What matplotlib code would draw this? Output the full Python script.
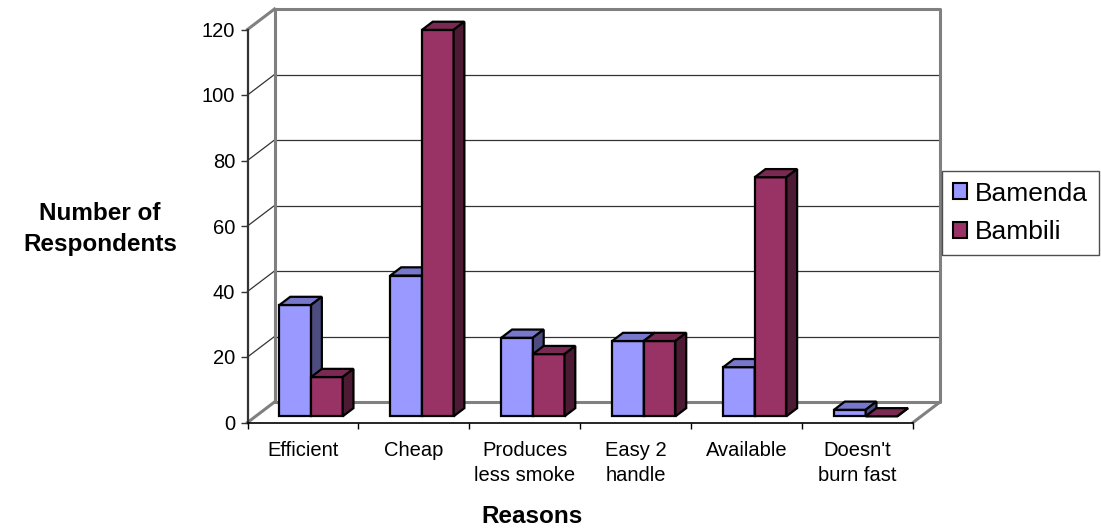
import matplotlib
matplotlib.use("Agg")
import matplotlib.pyplot as plt
from matplotlib.patches import Polygon, Patch

# --- data -------------------------------------------------------------
categories = ["Efficient", "Cheap", "Produces\nless smoke", "Easy 2\nhandle",
              "Available", "Doesn't\nburn fast"]
bamenda = [34, 43, 24, 23, 15, 2]
bambili = [12, 118, 19, 23, 73, 0]
series_names = ["Bamenda", "Bambili"]
y_ticks = [0, 20, 40, 60, 80, 100, 120]

# face colours: front, top, side
colors = {
    "Bamenda": ("#9999FF", "#7777CC", "#4C4C80"),
    "Bambili": ("#993366", "#7A2952", "#4D1A33"),
}

W, H = 1101, 531
fig = plt.figure(figsize=(W / 100, H / 100), dpi=100)
plt.rcParams["font.family"] = ["Liberation Sans", "DejaVu Sans"]

# front plane of the 3-D box
x0, x1 = 247.5, 913.0
y_zero, y_top = 422.5, 29.5
ax = fig.add_axes([x0 / W, (H - y_zero) / H, (x1 - x0) / W, (y_zero - y_top) / H])
n = len(categories)
ax.set_xlim(-0.5, n - 0.5)
ax.set_ylim(0, 120)

# depth direction in data units (full depth of the box)
DX = 27.0 / ((x1 - x0) / n)
DY = 20.5 / ((y_zero - y_top) / 120.0)


def P(x, y, z):
    return (x + z * DX, y + z * DY)


wall = "#808080"
grid = "#333333"

# back wall + left wall gridlines
for v in y_ticks[1:-1]:
    ax.plot(*zip(P(-0.5, v, 1), P(n - 0.5, v, 1)), color=grid, lw=0.9,
            clip_on=False, zorder=1)
    ax.plot(*zip(P(-0.5, v, 0), P(-0.5, v, 1)), color=grid, lw=0.9,
            clip_on=False, zorder=1)

# wall outlines
outline = [
    [P(-0.5, 0, 1), P(-0.5, 120, 1), P(n - 0.5, 120, 1), P(n - 0.5, 0, 1),
     P(-0.5, 0, 1)],
    [P(-0.5, 120, 0), P(-0.5, 120, 1)],
    [P(-0.5, 0, 0), P(-0.5, 0, 1)],
    [P(n - 0.5, 0, 0), P(n - 0.5, 0, 1)],
]
for seg in outline:
    ax.plot(*zip(*seg), color=wall, lw=2.2, clip_on=False, zorder=1.5)

# bars
bw = 0.285
z_front, z_back = 0.3, 0.7


def draw_bar(xl, h, name):
    front, top, side = colors[name]
    xr = xl + bw
    faces = [
        ([P(xl, 0, z_front), P(xr, 0, z_front), P(xr, h, z_front), P(xl, h, z_front)], front),
        ([P(xl, h, z_front), P(xr, h, z_front), P(xr, h, z_back), P(xl, h, z_back)], top),
        ([P(xr, 0, z_front), P(xr, 0, z_back), P(xr, h, z_back), P(xr, h, z_front)], side),
    ]
    for verts, c in faces:
        ax.add_patch(Polygon(verts, closed=True, facecolor=c, edgecolor="black",
                             lw=1.6, joinstyle="miter", clip_on=False, zorder=3))


for i in range(n):
    draw_bar(i - bw, bamenda[i], "Bamenda")
    draw_bar(i, bambili[i], "Bambili")

# axes styling
for s in ("top", "right"):
    ax.spines[s].set_visible(False)
ax.spines["left"].set_color("#333333")
ax.spines["left"].set_linewidth(1.6)
ax.spines["bottom"].set_color("black")
ax.spines["bottom"].set_linewidth(1.2)
ax.patch.set_visible(False)

ax.set_yticks(y_ticks)
ax.tick_params(axis="y", length=5.4, width=1, pad=3.5, labelsize=14.5,
               color="#333333")
ax.set_xticks([i - 0.5 for i in range(n + 1)])
ax.set_xticklabels([])
ax.tick_params(axis="x", which="major", length=4.5, width=1, color="black")
ax.set_xticks(range(n), minor=True)
ax.set_xticklabels(categories, minor=True, fontsize=14.5, linespacing=1.45)
ax.tick_params(axis="x", which="minor", length=0, pad=13)

ax.set_xlabel("Reasons", fontsize=17.5, fontweight="bold", va="center")
ax.xaxis.set_label_coords((531.7 - x0) / (x1 - x0), -(516.5 - y_zero) / (y_zero - y_top))
ax.set_ylabel("Number of\nRespondents", fontsize=17.5, fontweight="bold",
              rotation=0, ha="center", va="center", linespacing=1.5)
ax.yaxis.set_label_coords((100 - x0) / (x1 - x0), (y_zero - 229) / (y_zero - y_top))

handles = [Patch(facecolor=colors[s][0], edgecolor="black", lw=1.5) for s in series_names]
leg = fig.legend(handles, series_names, loc="upper left",
                 bbox_to_anchor=(942 / W, (H - 171) / H), fontsize=19,
                 frameon=True, fancybox=False, edgecolor="#222222",
                 handlelength=0.55, handleheight=0.55, handletextpad=0.3,
                 borderpad=0.4, labelspacing=0.55, borderaxespad=0)
leg.get_frame().set_linewidth(1.0)

fig.savefig("out.png", dpi=100)
